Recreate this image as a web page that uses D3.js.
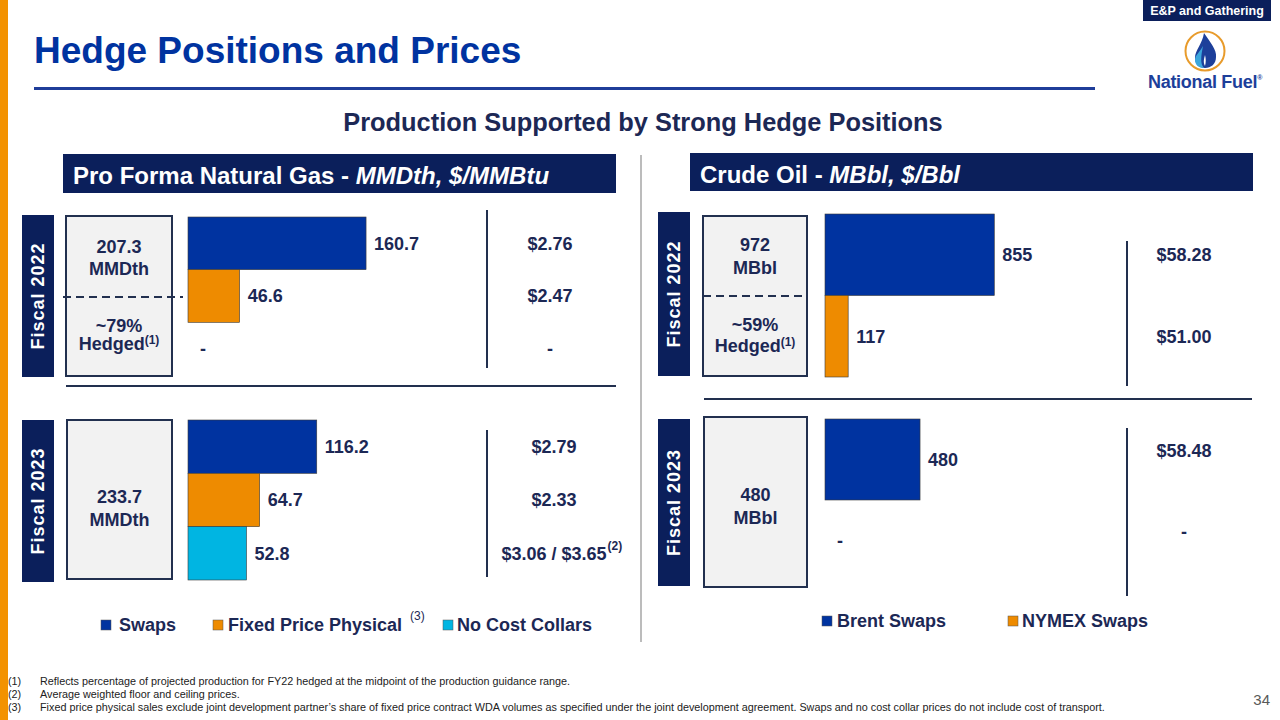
<!DOCTYPE html>
<html><head><meta charset="utf-8">
<script src="https://cdn.jsdelivr.net/npm/d3@7"></script>
<style>
html,body{margin:0;padding:0;background:#fff;}
svg{display:block;font-family:"Liberation Sans",Arial,sans-serif;}
</style></head>
<body>
<svg id="chart" width="1280" height="720"></svg>
<script>
// ---------------- DATA ----------------
const gasCategories = ["Swaps", "Fixed Price Physical", "No Cost Collars"];
const gasFY22Volumes = [160.7, 46.6, null];
const gasFY22Prices = ["$2.76", "$2.47", "-"];
const gasFY23Volumes = [116.2, 64.7, 52.8];
const gasFY23Prices = ["$2.79", "$2.33", "$3.06 / $3.65"];
const gasFY23PriceNotes = ["", "", "(2)"];
const gasTotals = ["207.3", "233.7"];
const gasUnit = "MMDth";
const gasHedged = "~79%";

const oilCategories = ["Brent Swaps", "NYMEX Swaps"];
const oilFY22Volumes = [855, 117];
const oilFY22Prices = ["$58.28", "$51.00"];
const oilFY23Volumes = [480, null];
const oilFY23Prices = ["$58.48", "-"];
const oilTotals = ["972", "480"];
const oilUnit = "MBbl";
const oilHedged = "~59%";

const fiscalYears = ["Fiscal 2022", "Fiscal 2023"];
const footnotes = [
  "Reflects percentage of projected production for FY22 hedged at the midpoint of the production guidance range.",
  "Average weighted floor and ceiling prices.",
  "Fixed price physical sales exclude joint development partner\u2019s share of fixed price contract WDA volumes as specified under the joint development agreement. Swaps and no cost collar prices do not include cost of transport."
];

// ---------------- STYLE ----------------
const NAVY = "#0B1F5B", TXT = "#1C2855", BLUE = "#0033A0", ORANGE = "#EE8B00", CYAN = "#00B5E2";
const colorOf = d3.scaleOrdinal()
  .domain(["Swaps", "Fixed Price Physical", "No Cost Collars", "Brent Swaps", "NYMEX Swaps"])
  .range([BLUE, ORANGE, CYAN, BLUE, ORANGE]);

const svg = d3.select("#chart");

// left orange strip
svg.append("rect").attr("x", 0).attr("y", 0).attr("width", 8).attr("height", 720).attr("fill", "#F39200");

// title
svg.append("text").attr("x", 34).attr("y", 63).attr("font-size", 37).attr("font-weight", "bold")
  .attr("fill", BLUE).text("Hedge Positions and Prices");
svg.append("rect").attr("x", 34).attr("y", 87).attr("width", 1061).attr("height", 3).attr("fill", "#1F3D99");

// E&P tag
svg.append("rect").attr("x", 1143).attr("y", 0).attr("width", 128).attr("height", 21).attr("fill", NAVY);
svg.append("text").attr("x", 1207).attr("y", 15).attr("text-anchor", "middle").attr("font-size", 12.5)
  .attr("font-weight", "bold").attr("fill", "#fff").text("E&P and Gathering");

// logo
const logo = svg.append("g");
logo.append("circle").attr("cx", 1205).attr("cy", 51).attr("r", 19.5).attr("fill", "#fff")
  .attr("stroke", "#E89B2B").attr("stroke-width", 2);
logo.append("path").attr("fill", "#1D3F9A")
  .attr("d", "M1204,33 C1210,42 1217,50 1216,57 C1216,64 1211,68 1205,68 C1199,68 1195,64 1195,58 C1195,50 1202,45 1204,33 Z");
logo.append("path").attr("fill", "#3BA6DC")
  .attr("d", "M1203,46 C1200,52 1195,55 1195,60 C1195,65 1199,68 1204,68 C1200,64 1201,56 1203,46 Z");
logo.append("path").attr("fill", "#fff")
  .attr("d", "M1205,55 C1204,59 1203,62 1205,66 C1206,62 1206,59 1205,55 Z");
const nf = svg.append("text").attr("x", 1148).attr("y", 88).attr("font-size", 18).attr("font-weight", "bold")
  .attr("fill", "#1D3F9A").attr("letter-spacing", -0.3);
nf.append("tspan").text("National Fuel");
nf.append("tspan").attr("font-size", 7).attr("dy", -8).text("®");

// subtitle
svg.append("text").attr("x", 643).attr("y", 131).attr("text-anchor", "middle").attr("font-size", 25.4)
  .attr("font-weight", "bold").attr("fill", TXT).text("Production Supported by Strong Hedge Positions");

// panel divider
svg.append("line").attr("x1", 641).attr("x2", 641).attr("y1", 155).attr("y2", 642)
  .attr("stroke", "#A6A6A6").attr("stroke-width", 1.5);

// header boxes
function header(x, y, w, h, bold, ital) {
  svg.append("rect").attr("x", x).attr("y", y).attr("width", w).attr("height", h).attr("fill", NAVY);
  const t = svg.append("text").attr("x", x + 10).attr("y", y + 30).attr("font-size", 24)
    .attr("font-weight", "bold").attr("fill", "#fff");
  t.append("tspan").text(bold);
  t.append("tspan").attr("font-style", "italic").text(ital);
}
header(63, 154, 553, 39, "Pro Forma Natural Gas - ", "MMDth, $/MMBtu");
header(690, 153, 563, 38, "Crude Oil - ", "MBbl, $/Bbl");

// ---------------- PANELS ----------------
function fiscalLabel(x, y0, y1, label) {
  svg.append("rect").attr("x", x).attr("y", y0).attr("width", 32).attr("height", y1 - y0).attr("fill", NAVY);
  svg.append("text").attr("transform", `translate(${x + 16},${(y0 + y1) / 2}) rotate(-90)`)
    .attr("text-anchor", "middle").attr("dy", "0.36em").attr("font-size", 18).attr("font-weight", "bold")
    .attr("letter-spacing", 1).attr("fill", "#fff").text(label);
}

function infoBox(x, y, w, h, lines, dashY, dashX0, dashX1) {
  svg.append("rect").attr("x", x).attr("y", y).attr("width", w).attr("height", h)
    .attr("fill", "#F2F2F2").attr("stroke", "#22304F").attr("stroke-width", 2);
  lines.forEach(l => {
    const t = svg.append("text").attr("x", x + w / 2).attr("y", l.y).attr("text-anchor", "middle")
      .attr("font-size", 18).attr("font-weight", "bold").attr("fill", TXT);
    t.append("tspan").text(l.text);
    if (l.sup) t.append("tspan").attr("font-size", 12).attr("dy", -6).text(l.sup);
  });
  if (dashY != null) {
    svg.append("line").attr("x1", dashX0).attr("x2", dashX1).attr("y1", dashY).attr("y2", dashY)
      .attr("stroke", "#22304F").attr("stroke-width", 2).attr("stroke-dasharray", "8,5");
  }
}

function barBlock(cfg) {
  const y = d3.scaleBand().domain(cfg.categories).range([cfg.top, cfg.bottom]).padding(0);
  const x = cfg.x;
  const rows = cfg.categories.map((c, i) => ({ cat: c, v: cfg.values[i], price: cfg.prices[i], note: (cfg.notes || [])[i] || "" }));
  const g = svg.append("g");
  g.selectAll("rect.bar").data(rows.filter(d => d.v != null)).join("rect")
    .attr("class", "bar")
    .attr("x", x(0)).attr("y", d => y(d.cat))
    .attr("width", d => x(d.v) - x(0)).attr("height", y.bandwidth())
    .attr("fill", d => colorOf(d.cat)).attr("stroke", "#3A3A3A").attr("stroke-width", 0.6);
  g.selectAll("text.val").data(rows).join("text")
    .attr("class", "val")
    .attr("x", d => d.v != null ? x(d.v) + 8 : x(0) + 12)
    .attr("y", d => y(d.cat) + y.bandwidth() / 2).attr("dy", "0.35em")
    .attr("font-size", 18).attr("font-weight", "bold").attr("fill", TXT)
    .text(d => d.v != null ? d3.format(cfg.fmt)(d.v) : "-");
  // price divider
  g.append("line").attr("x1", cfg.divX).attr("x2", cfg.divX).attr("y1", cfg.divY0).attr("y2", cfg.divY1)
    .attr("stroke", "#22304F").attr("stroke-width", 2);
  rows.forEach(d => {
    const ty = y(d.cat) + y.bandwidth() / 2 + (cfg.priceOffset || 0);
    const t = g.append("text").attr("x", cfg.priceX).attr("y", ty).attr("dy", "0.35em")
      .attr("text-anchor", "middle").attr("font-size", 18).attr("font-weight", "bold").attr("fill", TXT)
      .text(d.price);
    if (d.note) {
      const w = t.node().getComputedTextLength();
      g.append("text").attr("x", cfg.priceX + w / 2 + 1).attr("y", ty - 3)
        .attr("font-size", 12).attr("font-weight", "bold").attr("fill", TXT).text(d.note);
    }
  });
}

// Gas scales
const gasX = d3.scaleLinear().domain([0, 200]).range([188, 409.6]);
const oilX = d3.scaleLinear().domain([0, 1000]).range([825, 1023]);

// Gas FY22
fiscalLabel(22, 215, 377, fiscalYears[0]);
infoBox(66, 216, 106, 160, [
  { text: gasTotals[0], y: 253 }, { text: gasUnit, y: 275 },
  { text: gasHedged, y: 332 }, { text: "Hedged", sup: "(1)", y: 350 }
], 297, 63, 183);
barBlock({ categories: gasCategories, values: gasFY22Volumes, prices: gasFY22Prices, top: 217, bottom: 375,
  x: gasX, fmt: ".1f", divX: 487, divY0: 210, divY1: 368, priceX: 550 });
svg.append("line").attr("x1", 66).attr("x2", 616).attr("y1", 386).attr("y2", 386).attr("stroke", "#22304F").attr("stroke-width", 2);

// Gas FY23
fiscalLabel(22, 420, 582, fiscalYears[1]);
infoBox(67, 420, 105, 159, [{ text: gasTotals[1], y: 503 }, { text: gasUnit, y: 526 }]);
barBlock({ categories: gasCategories, values: gasFY23Volumes, prices: gasFY23Prices, notes: gasFY23PriceNotes,
  top: 420, bottom: 580, x: gasX, fmt: ".1f", divX: 487, divY0: 430, divY1: 577, priceX: 554 });

// Oil FY22
fiscalLabel(658, 212, 376, fiscalYears[0]);
infoBox(703, 216, 104, 160, [
  { text: oilTotals[0], y: 251 }, { text: oilUnit, y: 274 },
  { text: oilHedged, y: 331 }, { text: "Hedged", sup: "(1)", y: 352 }
], 296, 703, 808);
barBlock({ categories: oilCategories, values: oilFY22Volumes, prices: oilFY22Prices, top: 214, bottom: 377,
  x: oilX, fmt: "d", divX: 1127, divY0: 241, divY1: 386, priceX: 1184 });
svg.append("line").attr("x1", 704).attr("x2", 1252).attr("y1", 399).attr("y2", 399).attr("stroke", "#22304F").attr("stroke-width", 2);

// Oil FY23
fiscalLabel(658, 419, 586, fiscalYears[1]);
infoBox(704, 417, 103, 170, [{ text: oilTotals[1], y: 501 }, { text: oilUnit, y: 524 }]);
barBlock({ categories: oilCategories, values: oilFY23Volumes, prices: oilFY23Prices, top: 419, bottom: 581,
  x: oilX, fmt: "d", divX: 1127, divY0: 428, divY1: 596, priceX: 1184, priceOffset: -9 });

// ---------------- LEGENDS ----------------
function legend(items, y) {
  items.forEach(it => {
    svg.append("rect").attr("x", it.x).attr("y", y - 5).attr("width", 10).attr("height", 10)
      .attr("fill", colorOf(it.cat)).attr("stroke", "#555").attr("stroke-width", 0.5);
    svg.append("text").attr("x", it.tx).attr("y", y).attr("dy", "0.36em").attr("font-size", 18)
      .attr("font-weight", "bold").attr("fill", TXT).text(it.cat);
  });
}
legend([{ cat: gasCategories[0], x: 101, tx: 119 }, { cat: gasCategories[1], x: 213, tx: 228 }, { cat: gasCategories[2], x: 443, tx: 457 }], 625);
svg.append("text").attr("x", 410).attr("y", 620).attr("font-size", 12).attr("fill", TXT).text("(3)");
legend([{ cat: oilCategories[0], x: 822, tx: 837 }, { cat: oilCategories[1], x: 1008, tx: 1022 }], 621);

// ---------------- FOOTNOTES ----------------
footnotes.forEach((f, i) => {
  const yy = 685 + i * 13;
  svg.append("text").attr("x", 8).attr("y", yy).attr("font-size", 10.8).attr("fill", "#222").text(`(${i + 1})`);
  svg.append("text").attr("x", 40).attr("y", yy).attr("font-size", 10.8).attr("fill", "#222").text(f);
});
svg.append("text").attr("x", 1270).attr("y", 705).attr("text-anchor", "end").attr("font-size", 15)
  .attr("fill", "#595959").text("34");
</script>
</body></html>
